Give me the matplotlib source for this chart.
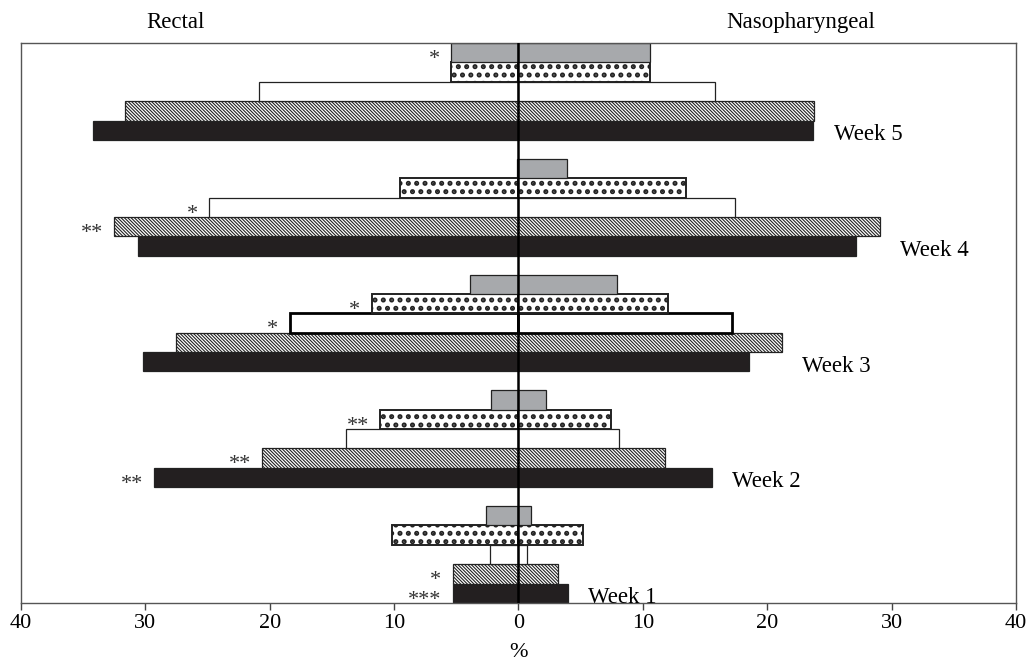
import matplotlib
matplotlib.use("Agg")
import matplotlib.pyplot as plt
import numpy as np

plt.rcParams['font.family'] = ['Liberation Serif', 'DejaVu Serif']
plt.rcParams['hatch.color'] = 'black'

weeks = ['Week 1', 'Week 2', 'Week 3', 'Week 4', 'Week 5']

# % per series, rectal (left) and nasopharyngeal (right), week 1..5
black_rectal = [5.3, 29.3, 30.2, 30.6, 34.2]
black_naso = [4.0, 15.6, 18.5, 27.1, 23.7]
hatched_rectal = [5.3, 20.6, 27.5, 32.5, 31.6]
hatched_naso = [3.2, 11.8, 21.2, 29.1, 23.8]
white_rectal = [2.3, 13.9, 18.4, 24.9, 20.9]
white_naso = [0.7, 8.1, 17.2, 17.4, 15.8]
dotted_rectal = [10.2, 11.1, 11.8, 9.5, 5.4]
dotted_naso = [5.2, 7.4, 12.0, 13.5, 10.6]
gray_rectal = [2.6, 2.2, 3.9, 0.1, 5.4]
gray_naso = [1.0, 2.2, 7.9, 3.9, 10.6]

# significance marks on the rectal side
black_stars = ['***', '**', '', '', '']
hatched_stars = ['*', '**', '', '**', '']
white_stars = ['', '', '*', '*', '']
dotted_stars = ['', '**', '*', '', '']
gray_stars = ['', '', '', '', '*']

series = [
    (black_rectal, black_naso, black_stars, dict(color='#231f20', hatch=None)),
    (hatched_rectal, hatched_naso, hatched_stars, dict(color='white', hatch='\\' * 10)),
    (white_rectal, white_naso, white_stars, dict(color='white', hatch=None)),
    (dotted_rectal, dotted_naso, dotted_stars, dict(color='white', hatch='..')),
    (gray_rectal, gray_naso, gray_stars, dict(color='#a7a9ac', hatch=None)),
]

fig = plt.figure(figsize=(10.28, 6.66), dpi=100)
ax = fig.add_axes([0.0204, 0.0946, 0.9679, 0.8408])

spacing = 5.97
base = np.arange(len(weeks)) * spacing

for k, (left, right, stars, st) in enumerate(series):
    y = base + k
    for vals, sign in ((left, -1), (right, 1)):
        bars = ax.barh(y, sign * np.array(vals), height=1.0, color=st['color'],
                       edgecolor='#222222', linewidth=0.9, hatch=st['hatch'])
        for i, b in enumerate(bars):
            if st['hatch'] == '..':
                b.set_linewidth(1.4)
                if hasattr(b, 'set_hatch_linewidth'):
                    b.set_hatch_linewidth(2.4)
            elif st['hatch'] is not None and hasattr(b, 'set_hatch_linewidth'):
                b.set_hatch_linewidth(0.8)
            # week 3 open bar is drawn with a heavy outline
            if k == 2 and i == 2:
                b.set_linewidth(2.0)
                b.set_edgecolor('black')
    for i, s in enumerate(stars):
        if s:
            ax.text(-left[i] - 0.9, y[i] - 0.35, s, ha='right', va='center',
                    fontsize=16, color='#333333')

for i, w in enumerate(weeks):
    xr = max(black_naso[i], hatched_naso[i]) + 1.6
    ax.text(xr, base[i] - 0.22, w, ha='left', va='center', fontsize=16.5)

ax.axvline(0, color='black', linewidth=1.8, zorder=5)

ax.set_xlim(-40, 40)
ax.set_ylim(-0.5, base[-1] + 4.5)
ticks = np.arange(-40, 41, 10)
ax.set_xticks(ticks)
ax.set_xticklabels([str(abs(t)) for t in ticks], fontsize=16)
ax.set_yticks([])
ax.tick_params(axis='x', direction='out', length=5, width=1, color='#444444', pad=3)
for sp in ax.spines.values():
    sp.set_color('#555555')
    sp.set_linewidth(1.0)

ax.set_xlabel('%', fontsize=16, labelpad=7)
ax.text(-27.6, 1.0375, 'Rectal', transform=ax.get_xaxis_transform(),
        ha='center', va='center', fontsize=16.5)
ax.text(22.7, 1.0375, 'Nasopharyngeal', transform=ax.get_xaxis_transform(),
        ha='center', va='center', fontsize=16.5)

fig.savefig('out.png', dpi=100)
